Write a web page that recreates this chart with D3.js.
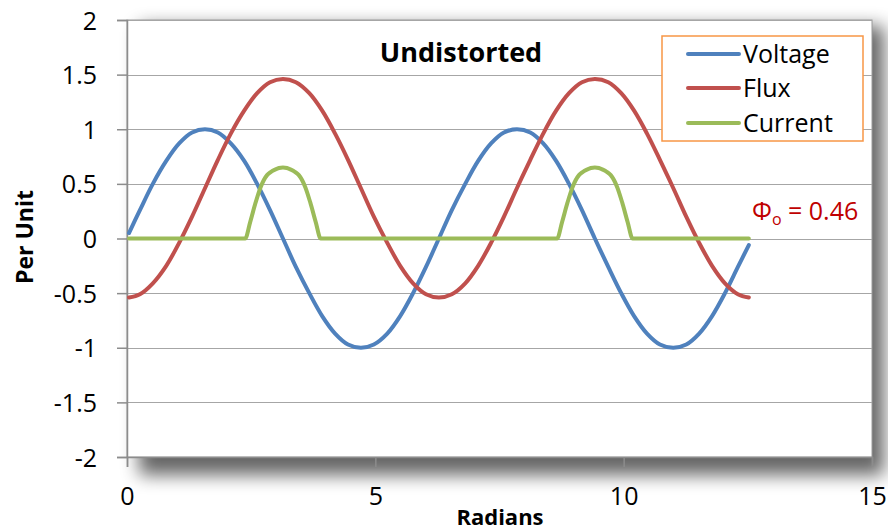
<!DOCTYPE html>
<html><head><meta charset="utf-8">
<script src="https://cdn.jsdelivr.net/npm/d3@7"></script>
<style>
html,body{margin:0;padding:0;background:#fff;}
svg{display:block;}
text{font-family:"Open Sans",sans-serif;}
</style></head>
<body>
<svg id="chart" width="888" height="530"></svg>
<script>
// ---- data ----
const radians = [0.04,0.26,0.52,0.79,1.05,1.31,1.57,1.83,2.09,2.36,2.62,2.88,3.14,3.40,3.67,3.93,4.19,4.45,4.71,4.97,5.24,5.50,5.76,6.02,6.28,6.54,6.81,7.07,7.33,7.59,7.85,8.12,8.38,8.64,8.90,9.16,9.42,9.69,9.95,10.21,10.47,10.73,11.00,11.26,11.52,11.78,12.04,12.30,12.52];
const voltage = [0.05,0.26,0.50,0.71,0.87,0.97,1.00,0.97,0.87,0.71,0.50,0.26,0.00,-0.26,-0.50,-0.71,-0.87,-0.97,-1.00,-0.97,-0.87,-0.71,-0.50,-0.26,0.00,0.26,0.50,0.71,0.87,0.97,1.00,0.97,0.87,0.71,0.50,0.26,0.00,-0.26,-0.50,-0.71,-0.87,-0.97,-1.00,-0.97,-0.87,-0.71,-0.50,-0.26,-0.06];
const flux = [-0.54,-0.51,-0.41,-0.25,-0.04,0.20,0.46,0.72,0.96,1.17,1.33,1.43,1.46,1.43,1.33,1.17,0.96,0.72,0.46,0.20,-0.04,-0.25,-0.41,-0.51,-0.54,-0.51,-0.41,-0.25,-0.04,0.20,0.46,0.72,0.96,1.17,1.33,1.43,1.46,1.43,1.33,1.17,0.96,0.72,0.46,0.20,-0.04,-0.25,-0.41,-0.51,-0.54];
const currentX = [0.04,2.38,2.48,2.59,2.69,2.82,2.90,2.98,3.06,3.14,3.22,3.30,3.38,3.46,3.59,3.69,3.80,3.90,8.66,8.76,8.87,8.97,9.10,9.18,9.26,9.34,9.42,9.50,9.58,9.66,9.74,9.87,9.97,10.08,10.18,12.52];
const current = [0,0,0.15,0.33,0.47,0.58,0.61,0.63,0.645,0.65,0.645,0.63,0.61,0.58,0.47,0.33,0.15,0,0,0.15,0.33,0.47,0.58,0.61,0.63,0.645,0.65,0.645,0.63,0.61,0.58,0.47,0.33,0.15,0,0];
const seriesNames = ["Voltage","Flux","Current"];
const seriesColors = ["#4F81BD","#C0504D","#9BBB59"];
const xTicks = [0,5,10,15];
const yTicks = [-2,-1.5,-1,-0.5,0,0.5,1,1.5,2];
const titleText = "Undistorted";
const xTitle = "Radians";
const yTitle = "Per Unit";

// ---- layout ----
const L = 127, T = 20, R = 872, B = 457;
const svg = d3.select("#chart");
const x = d3.scaleLinear().domain([0,15]).range([L,R]);
const y = d3.scaleLinear().domain([-2,2]).range([B,T]);

const defs = svg.append("defs");
const f = defs.append("filter").attr("id","shadow").attr("x","-20%").attr("y","-20%").attr("width","150%").attr("height","150%");
f.append("feGaussianBlur").attr("stdDeviation",9);

// shadow
svg.append("rect").attr("x",L+12).attr("y",T+6).attr("width",R-L).attr("height",B-T+12)
  .attr("fill","#000").attr("opacity",0.6).attr("filter","url(#shadow)");
// plot area
svg.append("rect").attr("x",L).attr("y",T).attr("width",R-L).attr("height",B-T)
  .attr("fill","#fff").attr("stroke","#9a9a9a").attr("stroke-width",1);

// gridlines
svg.append("g").selectAll("line").data(yTicks).join("line")
  .attr("x1",L).attr("x2",R).attr("y1",d=>Math.round(y(d))+0.5).attr("y2",d=>Math.round(y(d))+0.5)
  .attr("stroke","#a6a6a6").attr("stroke-width",1.2);

// axes
const fmt = d => String(d);
const yAxis = d3.axisLeft(y).tickValues(yTicks).tickSize(10).tickPadding(20).tickFormat(fmt);
const gy = svg.append("g").attr("transform",`translate(${L},0)`).call(yAxis);
const xAxis = d3.axisBottom(x).tickValues(xTicks).tickSize(10).tickPadding(20).tickFormat(fmt);
const gx = svg.append("g").attr("transform",`translate(0,${B})`).call(xAxis);
[gx,gy].forEach(g=>{
  g.select(".domain").attr("stroke","#8c8c8c").attr("stroke-width",1.5);
  g.selectAll(".tick line").attr("stroke","#8c8c8c").attr("stroke-width",1.5);
  g.selectAll(".tick text").attr("fill","#000").style("font-family","'Open Sans',sans-serif").style("font-size","25px");
});
gy.selectAll(".tick text").attr("dy","0.36em");

// lines
const smooth = d3.line().x(d=>x(d[0])).y(d=>y(d[1])).curve(d3.curveCatmullRom.alpha(0.5));
const mono = d3.line().x(d=>x(d[0])).y(d=>y(d[1])).curve(d3.curveMonotoneX);
const seriesData = [
  radians.map((r,i)=>[r,voltage[i]]),
  radians.map((r,i)=>[r,flux[i]]),
  currentX.map((r,i)=>[r,current[i]])
];
svg.append("g").selectAll("path").data(seriesData).join("path")
  .attr("d",(d,i)=> i===2 ? mono(d) : smooth(d)).attr("fill","none")
  .attr("stroke",(d,i)=>seriesColors[i]).attr("stroke-width",4)
  .attr("stroke-linecap","round").attr("stroke-linejoin","round");

// title
svg.append("text").attr("x",461).attr("y",62).attr("text-anchor","middle")
  .style("font-weight","bold").style("font-size","27px").text(titleText);

// axis titles
svg.append("text").attr("x",500).attr("y",525).attr("text-anchor","middle")
  .style("font-weight","bold").style("font-size","22px").text(xTitle);
svg.append("text").attr("transform","translate(33,237) rotate(-90)").attr("text-anchor","middle")
  .style("font-weight","bold").style("font-size","23px").text(yTitle);

// legend
const lg = svg.append("g");
lg.append("rect").attr("x",662).attr("y",36).attr("width",201).attr("height",105)
  .attr("fill","#fff").attr("stroke","#F79646").attr("stroke-width",1.5);
const legY = [54,88,123];
seriesNames.forEach((n,i)=>{
  lg.append("line").attr("x1",688).attr("x2",739).attr("y1",legY[i]).attr("y2",legY[i])
    .attr("stroke",seriesColors[i]).attr("stroke-width",4).attr("stroke-linecap","round");
  lg.append("text").attr("x",743).attr("y",legY[i]+9).style("font-size","25px").attr("fill","#000").text(n);
});

// annotation
const ann = svg.append("text").attr("x",752).attr("y",220).attr("fill","#C00000").style("font-size","25px");
ann.append("tspan").text("Φ");
ann.append("tspan").attr("dy",5).style("font-size","16px").text("o");
ann.append("tspan").attr("dy",-5).text(" = 0.46");
</script>
</body></html>
